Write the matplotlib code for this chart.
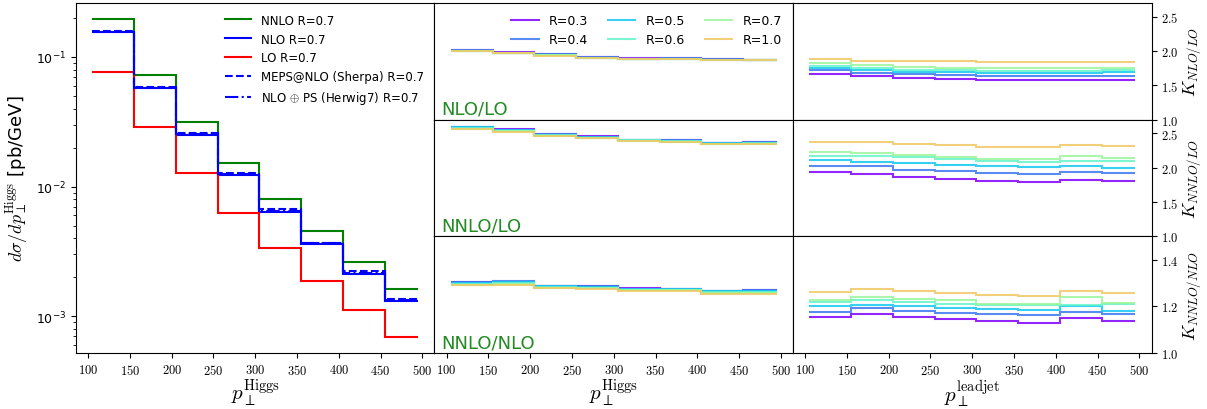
import numpy as np
import matplotlib
matplotlib.use("Agg")
import matplotlib.pyplot as plt
from matplotlib.ticker import FuncFormatter, MultipleLocator

plt.rcParams["mathtext.fontset"] = "cm"

# bin edges (GeV)
edges = [105, 155, 205, 255, 305, 355, 405, 455, 495]

# left panel: d sigma / d pT^Higgs [pb/GeV]
nnlo = [0.1965, 0.0726, 0.0313, 0.0152, 0.0080, 0.00451, 0.00263, 0.00163]
nlo = [0.155, 0.0573, 0.0250, 0.01228, 0.00638, 0.00360, 0.00210, 0.00131]
lo = [0.077, 0.0290, 0.0127, 0.00628, 0.00333, 0.00188, 0.00112, 0.00069]
sherpa = [0.158, 0.0585, 0.0258, 0.0127, 0.0067, 0.0037, 0.00222, 0.00136]
herwig = [0.157, 0.0580, 0.0255, 0.0125, 0.0065, 0.00365, 0.00215, 0.00133]

radii = ["0.3", "0.4", "0.5", "0.6", "0.7", "1.0"]

# middle column: ratios vs pT^Higgs, one row per R
nlo_lo = [
    [2.01, 1.98, 1.95, 1.91, 1.895, 1.895, 1.88, 1.875],
    [2.01, 1.975, 1.95, 1.91, 1.89, 1.895, 1.88, 1.875],
    [2.005, 1.975, 1.945, 1.905, 1.89, 1.89, 1.875, 1.87],
    [2.00, 1.97, 1.94, 1.905, 1.885, 1.89, 1.875, 1.87],
    [2.00, 1.97, 1.94, 1.90, 1.885, 1.885, 1.875, 1.87],
    [1.995, 1.965, 1.935, 1.90, 1.885, 1.885, 1.87, 1.865],
]
nnlo_lo = [
    [2.60, 2.56, 2.49, 2.455, 2.41, 2.405, 2.36, 2.37],
    [2.60, 2.555, 2.485, 2.45, 2.41, 2.40, 2.36, 2.37],
    [2.59, 2.55, 2.48, 2.445, 2.405, 2.395, 2.355, 2.36],
    [2.58, 2.54, 2.47, 2.44, 2.40, 2.39, 2.35, 2.355],
    [2.57, 2.53, 2.465, 2.435, 2.395, 2.38, 2.345, 2.35],
    [2.56, 2.52, 2.455, 2.43, 2.39, 2.37, 2.34, 2.34],
]
nnlo_nlo = [
    [1.306, 1.305, 1.288, 1.286, 1.277, 1.275, 1.267, 1.27],
    [1.303, 1.307, 1.287, 1.285, 1.276, 1.275, 1.266, 1.268],
    [1.30, 1.303, 1.285, 1.282, 1.274, 1.273, 1.264, 1.265],
    [1.297, 1.30, 1.283, 1.28, 1.271, 1.271, 1.262, 1.262],
    [1.293, 1.297, 1.28, 1.277, 1.268, 1.268, 1.259, 1.259],
    [1.29, 1.293, 1.277, 1.274, 1.265, 1.265, 1.255, 1.255],
]

# right column: K-factors vs pT^leadjet, one row per R
k_nlo_lo = [
    [1.67, 1.63, 1.60, 1.59, 1.58, 1.58, 1.58, 1.58],
    [1.72, 1.68, 1.66, 1.65, 1.64, 1.64, 1.64, 1.64],
    [1.75, 1.72, 1.70, 1.69, 1.68, 1.68, 1.68, 1.69],
    [1.78, 1.75, 1.73, 1.72, 1.71, 1.71, 1.71, 1.72],
    [1.82, 1.79, 1.77, 1.76, 1.75, 1.75, 1.76, 1.76],
    [1.885, 1.86, 1.85, 1.85, 1.845, 1.845, 1.845, 1.845],
]
k_nnlo_lo = [
    [1.94, 1.91, 1.86, 1.835, 1.81, 1.795, 1.825, 1.81],
    [2.03, 2.02, 1.967, 1.95, 1.925, 1.91, 1.94, 1.92],
    [2.11, 2.08, 2.065, 2.045, 2.02, 2.005, 2.03, 2.00],
    [2.175, 2.175, 2.15, 2.125, 2.10, 2.09, 2.10, 2.10],
    [2.23, 2.22, 2.18, 2.16, 2.13, 2.13, 2.17, 2.145],
    [2.37, 2.37, 2.34, 2.325, 2.30, 2.30, 2.335, 2.315],
]
k_nnlo_nlo = [
    [1.154, 1.167, 1.154, 1.145, 1.136, 1.129, 1.151, 1.138],
    [1.177, 1.191, 1.18, 1.173, 1.167, 1.162, 1.177, 1.167],
    [1.20, 1.206, 1.201, 1.194, 1.19, 1.186, 1.20, 1.181],
    [1.217, 1.225, 1.22, 1.212, 1.206, 1.206, 1.206, 1.21],
    [1.227, 1.24, 1.233, 1.225, 1.212, 1.212, 1.238, 1.213],
    [1.261, 1.275, 1.265, 1.258, 1.25, 1.245, 1.267, 1.257],
]

colors = ["#8000ff", "#3c78f0", "#14c8f0", "#64f5c8", "#9bf59b", "#f0c864"]
mathfmt = FuncFormatter(lambda v, p: f"${v:.0f}$")
mathfmt1 = FuncFormatter(lambda v, p: f"${v:.1f}$")

fig = plt.figure(figsize=(12.07, 4.10), dpi=100)
W = 358.5 / 1207
x0 = 76 / 1207
bot = 56 / 410
H = 350 / 410

# ---- left panel
ax = fig.add_axes([x0, bot, W, H])
ax.stairs(nnlo, edges, baseline=None, color="green", lw=1.5, label="NNLO R=0.7")
ax.stairs(nlo, edges, baseline=None, color="blue", lw=1.5, label="NLO R=0.7")
ax.stairs(lo, edges, baseline=None, color="red", lw=1.5, label="LO R=0.7")
ax.stairs(sherpa, edges, baseline=None, color="blue", lw=1.5, ls="--",
          label="MEPS@NLO (Sherpa) R=0.7")
ax.stairs(herwig, edges, baseline=None, color="blue", lw=1.5, ls="-.",
          label=r"NLO $\oplus$ PS (Herwig7) R=0.7")
ax.set_yscale("log")
ax.margins(x=0.05, y=0.05)
ax.xaxis.set_major_locator(MultipleLocator(50))
ax.xaxis.set_major_formatter(mathfmt)
ax.tick_params(labelsize=9)
ax.set_xlabel(r"$p_{\perp}^{\mathrm{Higgs}}$", fontsize=15, labelpad=0)
ax.set_ylabel(r"$d\sigma/dp_{\perp}^{\mathrm{Higgs}}$ [pb/GeV]", fontsize=13)
ax.legend(loc="upper right", frameon=False, fontsize=8.5, handlelength=2.2)

# ---- ratio columns
mid_data = [nlo_lo, nnlo_lo, nnlo_nlo]
right_data = [k_nlo_lo, k_nnlo_lo, k_nnlo_nlo]
mid_text = ["NLO/LO", "NNLO/LO", "NNLO/NLO"]
klabels = [r"$K_{NLO/LO}$", r"$K_{NNLO/LO}$", r"$K_{NNLO/NLO}$"]
ylims = [(1.0, 2.7), (1.0, 2.7), (1.0, 1.5)]
ysteps = [0.5, 0.5, 0.2]
h = H / 3

for row in range(3):
    yb = bot + (2 - row) * h
    axm = fig.add_axes([x0 + W, yb, W, h])
    axr = fig.add_axes([x0 + 2 * W, yb, W, h])
    for i, r in enumerate(radii):
        axm.stairs(mid_data[row][i], edges, baseline=None, color=colors[i],
                   alpha=0.85, lw=1.5, label=f"R={r}")
        axr.stairs(right_data[row][i], edges, baseline=None, color=colors[i],
                   alpha=0.85, lw=1.5)
    for a in (axm, axr):
        a.set_ylim(*ylims[row])
        a.set_xlim(85.5, 514.5)
        a.xaxis.set_major_locator(MultipleLocator(50))
        a.xaxis.set_major_formatter(mathfmt)
        a.tick_params(labelsize=9)
        if row < 2:
            a.tick_params(axis="x", bottom=False, labelbottom=False)
    axm.tick_params(axis="y", left=False, labelleft=False)
    axm.text(0.02, 0.05, mid_text[row], transform=axm.transAxes,
             color="forestgreen", fontsize=13)
    axr.yaxis.tick_right()
    axr.yaxis.set_label_position("right")
    axr.yaxis.set_major_locator(MultipleLocator(ysteps[row]))
    axr.yaxis.set_major_formatter(mathfmt1)
    axr.set_ylabel(klabels[row], fontsize=13, labelpad=2)
    if row == 0:
        axm.legend(loc="upper right", ncol=3, frameon=False, fontsize=9,
                   handlelength=2.2, columnspacing=1.6)
    if row == 2:
        axm.set_xlabel(r"$p_{\perp}^{\mathrm{Higgs}}$", fontsize=15, labelpad=0)
        axr.set_xlabel(r"$p_{\perp}^{\mathrm{leadjet}}$", fontsize=15, labelpad=0)

fig.savefig("out.png", dpi=100)
